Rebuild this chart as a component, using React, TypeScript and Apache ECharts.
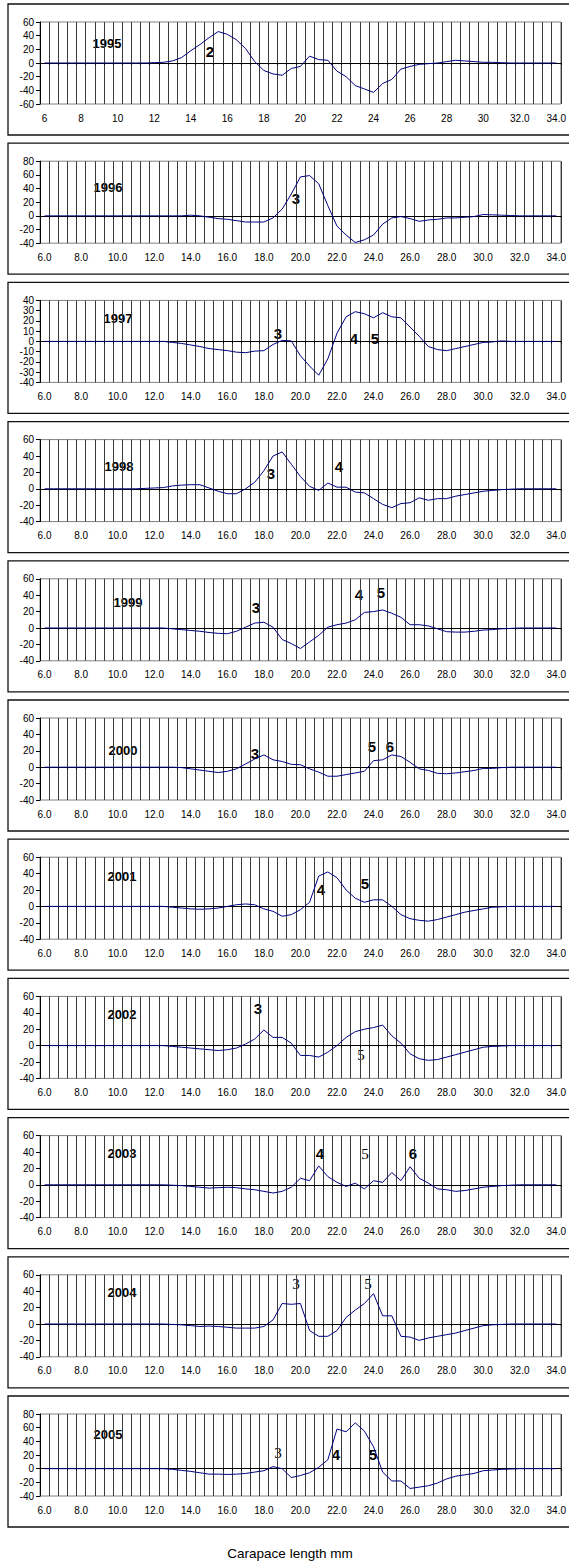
import React, { useEffect, useRef } from "react";
import * as echarts from "echarts";

// Carapace length categories (mm)
const lengths = [
  "6.0", "6.5", "7.0", "7.5", "8.0", "8.5", "9.0", "9.5", "10.0", "10.5",
  "11.0", "11.5", "12.0", "12.5", "13.0", "13.5", "14.0", "14.5", "15.0", "15.5",
  "16.0", "16.5", "17.0", "17.5", "18.0", "18.5", "19.0", "19.5", "20.0", "20.5",
  "21.0", "21.5", "22.0", "22.5", "23.0", "23.5", "24.0", "24.5", "25.0", "25.5",
  "26.0", "26.5", "27.0", "27.5", "28.0", "28.5", "29.0", "29.5", "30.0", "30.5",
  "31.0", "31.5", "32.0", "32.5", "33.0", "33.5", "34.0",
];

const ticks1995 = ["6", "8", "10", "12", "14", "16", "18", "20", "22", "24", "26", "28", "30", "32.0", "34.0"];
const ticksOther = ["6.0", "8.0", "10.0", "12.0", "14.0", "16.0", "18.0", "20.0", "22.0", "24.0", "26.0", "28.0", "30.0", "32.0", "34.0"];

const years = ["1995", "1996", "1997", "1998", "1999", "2000", "2001", "2002", "2003", "2004", "2005"];

const v1995 = [0, 0, 0, 0, 0, 0, 0, 0, 0, 0, 0, 0, 0.5, 1, 3, 8, 18, 27, 37, 46, 42, 34, 21, 2, -11, -16, -18, -8, -5, 10, 5, 4, -12, -20, -33, -38, -43, -30, -24, -9, -5, -2, -1, 0, 2, 4, 3, 2, 1, 1, 0.5, 0, 0, 0, 0, 0, 0];
const v1996 = [0, 0, 0, 0, 0, 0, 0, 0, 0, 0, 0, 0, 0, 0, 0, 0, 1, 0, -2, -4, -5, -7, -9, -9, -9, -3, 10, 32, 57, 59, 47, 15, -15, -28, -39, -35, -28, -12, -3, -1, -4, -8, -6, -5, -3, -3, -2, -1, 2, 1.5, 1, 0.5, 0, 0, 0, 0, 0];
const v1997 = [0, 0, 0, 0, 0, 0, 0, 0, 0, 0, 0, 0, 0, 0, -1, -2, -3.5, -5, -7, -8, -9, -10.5, -11, -9.5, -9, -3, 1, 0.5, -14, -24, -33, -17, 8, 24, 29, 27, 23, 28, 24, 23, 14, 5, -5, -8, -9, -7, -5, -3, -1, -0.5, 0.5, 0, 0, 0, 0, 0, 0];
const v1998 = [0, 0, 0, 0, 0, 0, 0, 0, 0, 0, 0, 0.5, 1, 1.5, 3.5, 4.5, 5, 5, 1, -3, -6, -6, 0, 8, 22, 40, 45, 30, 15, 3, -2, 7, 2, 2, -4, -5, -12, -19, -23, -18, -17, -11, -14, -12, -12, -9, -7, -5, -3, -2, -1, -0.5, 0, 0, 0, 0, 0];
const v1999 = [0, 0, 0, 0, 0, 0, 0, 0, 0, 0, 0, 0, 0, 0, -1, -2, -3, -4, -5.5, -6.5, -7, -4, 1, 6, 7, 1, -14, -19, -25, -17, -9, 1, 4, 6, 10, 19, 20, 22, 18, 13, 4, 4, 2.5, -1, -4.5, -5, -5, -4, -2.5, -2, -1, -0.5, 0, 0, 0, 0, 0];
const v2000 = [0, 0, 0, 0, 0, 0, 0, 0, 0, 0, 0, 0, 0, 0, 0, -0.5, -2, -3.5, -5, -6.5, -5, -2, 4, 10, 15, 9, 7, 3.5, 3, -2, -6, -11, -11, -9, -7, -5, 8, 9, 15, 13, 6, -2, -4, -7.5, -8, -7, -5.5, -4, -1.5, -1.5, -0.5, 0, 0, 0, 0, 0, 0];
const v2001 = [0, 0, 0, 0, 0, 0, 0, 0, 0, 0, 0, 0, 0, 0, -1, -2, -3, -3.5, -3, -2, 0, 2, 3, 2, -3, -6, -12, -10, -4, 5, 37, 42, 35, 20, 10, 5, 8, 8, 0, -10, -15, -17, -18, -16, -13, -10, -7, -5, -3, -1, -0.5, 0, 0, 0, 0, 0, 0];
const v2002 = [0, 0, 0, 0, 0, 0, 0, 0, 0, 0, 0, 0, 0, 0, -1, -2, -3, -4, -5, -6, -5, -3, 2, 8, 19, 10, 10, 3, -12, -12, -14, -8, 0, 10, 17, 20, 22, 25, 12, 3, -10, -16, -18, -17, -14, -11, -8, -5, -2, -1, -0.5, 0, 0, 0, 0, 0, 0];
const v2003 = [0, 0, 0, 0, 0, 0, 0, 0, 0, 0, 0, 0, 0, 0, -0.5, -1, -2, -3, -4, -3.5, -3, -3.5, -5, -6, -8, -10, -8, -3, 8, 5, 23, 10, 3, -2, 2, -5, 5, 3, 15, 5, 22, 8, 2, -5, -6, -8, -7, -5, -3, -2, -1, -0.5, 0, 0, 0, 0, 0];
const v2004 = [0, 0, 0, 0, 0, 0, 0, 0, 0, 0, 0, 0, 0, 0, -0.5, -1, -2, -3, -2.5, -3, -4, -5, -5, -5, -3, 5, 25, 24, 25, -8, -15, -15, -8, 8, 17, 25, 37, 10, 10, -15, -16, -20, -17, -15, -13, -11, -8, -5, -2, -1, -0.5, 0, 0, 0, 0, 0, 0];
const v2005 = [0, 0, 0, 0, 0, 0, 0, 0, 0, 0, 0, 0, 0, 0, -1, -2.5, -4, -6, -8, -8, -8.5, -8, -7, -5, -3, 3, 0, -13, -10, -6, 2, 13, 58, 54, 67, 55, 32, -5, -18, -18, -29, -27, -25, -21, -15, -11, -9, -7, -3, -2, -1, -0.5, 0, 0, 0, 0, 0];

const seriesValues = [v1995, v1996, v1997, v1998, v1999, v2000, v2001, v2002, v2003, v2004, v2005];
const yMins = [-60, -40, -40, -40, -40, -40, -40, -40, -40, -40, -40];
const yMaxs = [60, 80, 40, 60, 60, 60, 60, 60, 60, 60, 80];
const ySteps = [20, 20, 10, 20, 20, 20, 20, 20, 20, 20, 20];

// Cohort annotations: panel index, text, style kind
const notes: { p: number; t: string; x: number; dy: number; kind: "year" | "bold" | "plain" }[] = [
  { p: 0, t: "1995", x: 107, dy: 39, kind: "year" },
  { p: 0, t: "2", x: 210, dy: 47, kind: "bold" },
  { p: 1, t: "1996", x: 108, dy: 44, kind: "year" },
  { p: 1, t: "3", x: 296, dy: 55, kind: "bold" },
  { p: 2, t: "1997", x: 118, dy: 36, kind: "year" },
  { p: 2, t: "3", x: 278, dy: 51, kind: "bold" },
  { p: 2, t: "4", x: 354, dy: 56, kind: "bold" },
  { p: 2, t: "5", x: 375, dy: 56, kind: "bold" },
  { p: 3, t: "1998", x: 119, dy: 45, kind: "year" },
  { p: 3, t: "3", x: 271, dy: 52, kind: "bold" },
  { p: 3, t: "4", x: 339, dy: 45, kind: "bold" },
  { p: 4, t: "1999", x: 128, dy: 42, kind: "year" },
  { p: 4, t: "3", x: 256, dy: 47, kind: "bold" },
  { p: 4, t: "4", x: 359, dy: 34, kind: "bold" },
  { p: 4, t: "5", x: 381, dy: 32, kind: "bold" },
  { p: 5, t: "2000", x: 123, dy: 50, kind: "year" },
  { p: 5, t: "3", x: 255, dy: 53, kind: "bold" },
  { p: 5, t: "5", x: 372, dy: 46, kind: "bold" },
  { p: 5, t: "6", x: 390, dy: 46, kind: "bold" },
  { p: 6, t: "2001", x: 122, dy: 37, kind: "year" },
  { p: 6, t: "4", x: 321, dy: 50, kind: "bold" },
  { p: 6, t: "5", x: 365, dy: 44, kind: "bold" },
  { p: 7, t: "2002", x: 122, dy: 36, kind: "year" },
  { p: 7, t: "3", x: 258, dy: 30, kind: "bold" },
  { p: 7, t: "5", x: 361, dy: 77, kind: "plain" },
  { p: 8, t: "2003", x: 122, dy: 36, kind: "year" },
  { p: 8, t: "4", x: 320, dy: 36, kind: "bold" },
  { p: 8, t: "5", x: 365, dy: 36, kind: "plain" },
  { p: 8, t: "6", x: 413, dy: 36, kind: "bold" },
  { p: 9, t: "2004", x: 122, dy: 36, kind: "year" },
  { p: 9, t: "3", x: 296, dy: 27, kind: "plain" },
  { p: 9, t: "5", x: 368, dy: 27, kind: "plain" },
  { p: 10, t: "2005", x: 108, dy: 38, kind: "year" },
  { p: 10, t: "3", x: 278, dy: 57, kind: "plain" },
  { p: 10, t: "4", x: 336, dy: 58, kind: "bold" },
  { p: 10, t: "5", x: 373, dy: 58, kind: "bold" },
];

const W = 569;
const H = 1564;
const TOP0 = 4;
const PITCH = 139.2;
const BOX_H = 131;
const BOX_LEFT = 8;
const PLOT_LEFT = 40;
const PLOT_RIGHT = 5;
const PLOT_OFF = 18;
const PLOT_H = 82;
const FONT = "'Liberation Sans', Arial, sans-serif";

export default function App() {
  const ref = useRef<HTMLDivElement>(null);

  useEffect(() => {
    document.body.style.margin = "0";
    if (!ref.current) return;
    const chart = echarts.init(ref.current, undefined, { renderer: "svg" });

    const boxTop = (i: number) => TOP0 + PITCH * i;

    const grids: any[] = [];
    const xAxes: any[] = [];
    const yAxes: any[] = [];
    const series: any[] = [];

    years.forEach((y, i) => {
      const tickLabels = i === 0 ? ticks1995 : ticksOther;
      grids.push({
        left: PLOT_LEFT,
        right: PLOT_RIGHT,
        top: boxTop(i) + PLOT_OFF,
        height: PLOT_H,
        show: true,
        borderColor: "#808080",
        borderWidth: 1,
        backgroundColor: "transparent",
      });
      xAxes.push({
        type: "category",
        gridIndex: i,
        data: lengths,
        boundaryGap: true,
        position: "bottom",
        axisLine: { show: false, onZero: false },
        axisTick: { show: false },
        axisLabel: {
          interval: 3,
          fontSize: 10,
          color: "#000",
          fontFamily: FONT,
          margin: 9,
          formatter: (_v: string, idx: number) => tickLabels[Math.round(idx / 4)] ?? "",
        },
        splitLine: { show: true, interval: 0, lineStyle: { color: "#3a3a3a", width: 1 } },
      });
      xAxes.push({
        type: "category",
        gridIndex: i,
        data: lengths,
        boundaryGap: true,
        position: "top",
        axisLine: { show: true, onZero: true, lineStyle: { color: "#000", width: 1 } },
        axisTick: { show: true, interval: 0, inside: true, length: 2, lineStyle: { color: "#000" } },
        axisLabel: { show: false },
        splitLine: { show: false },
      });
      yAxes.push({
        type: "value",
        gridIndex: i,
        min: yMins[i],
        max: yMaxs[i],
        interval: ySteps[i],
        axisLine: { show: true, onZero: false, lineStyle: { color: "#000", width: 1 } },
        axisTick: { show: true, length: 4, lineStyle: { color: "#000" } },
        axisLabel: { fontSize: 10, color: "#000", fontFamily: FONT, margin: 6 },
        splitLine: { show: false },
      });
      series.push({
        type: "line",
        name: y,
        xAxisIndex: 2 * i,
        yAxisIndex: i,
        data: seriesValues[i],
        symbol: "none",
        silent: true,
        lineStyle: { color: "#000080", width: 1 },
      });
    });

    const graphics: any[] = [];
    years.forEach((_y, i) => {
      graphics.push({
        type: "rect",
        silent: true,
        shape: { x: BOX_LEFT, y: boxTop(i), width: W, height: BOX_H },
        style: { fill: "none", stroke: "#111", lineWidth: 1.3 },
      });
    });
    notes.forEach((n) => {
      const isYear = n.kind === "year";
      graphics.push({
        type: "text",
        silent: true,
        x: n.x,
        y: boxTop(n.p) + n.dy,
        style: {
          text: n.t,
          fill: "#000",
          fontSize: isYear ? 13 : 15,
          fontWeight: n.kind === "plain" ? "normal" : "bold",
          fontFamily: n.kind === "plain" ? "'Liberation Serif', 'Times New Roman', serif" : FONT,
          align: "center",
          verticalAlign: "middle",
        },
      });
    });
    graphics.push({
      type: "text",
      silent: true,
      x: 290,
      y: 1553,
      style: {
        text: "Carapace length mm",
        fill: "#000",
        fontSize: 13.5,
        fontFamily: FONT,
        align: "center",
        verticalAlign: "middle",
      },
    });

    chart.setOption({
      animation: false,
      backgroundColor: "#fff",
      grid: grids,
      xAxis: xAxes,
      yAxis: yAxes,
      series,
      graphic: graphics,
    });

    return () => chart.dispose();
  }, []);

  return <div ref={ref} style={{ width: W, height: H }} />;
}
